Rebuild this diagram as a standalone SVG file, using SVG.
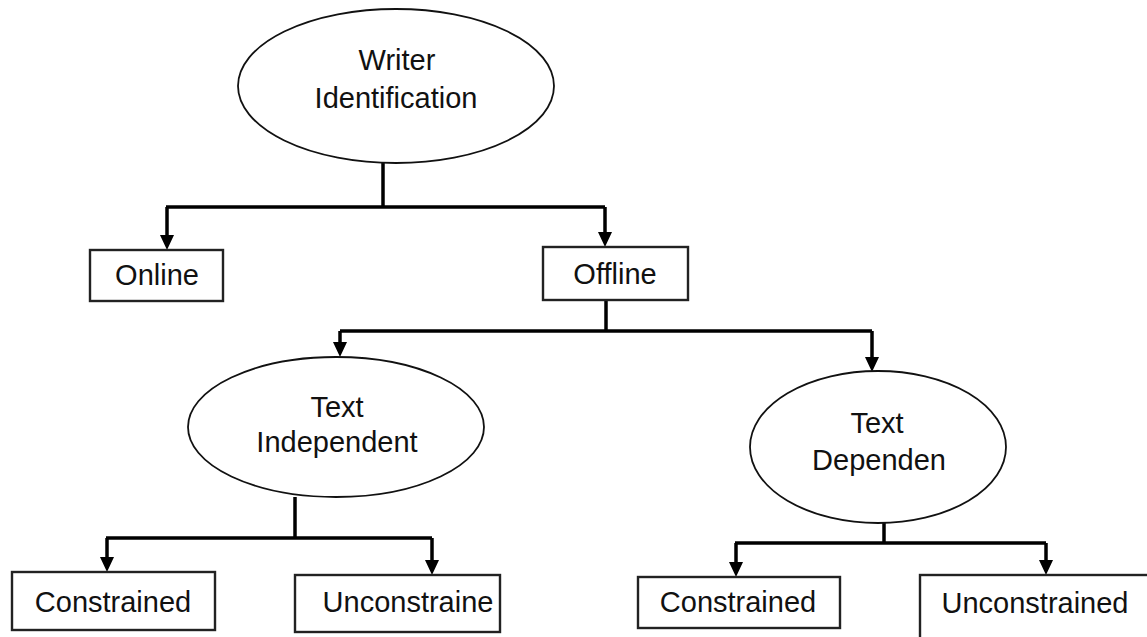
<svg xmlns="http://www.w3.org/2000/svg" width="1147" height="637" viewBox="0 0 1147 637">
<defs>
<style>
.ell{fill:#fff;stroke:#111;stroke-width:1.8}
.box{fill:#fff;stroke:#222;stroke-width:2.4}
.t{font-family:"Liberation Sans",Arial,sans-serif;font-size:29px;fill:#111;text-anchor:middle}
.c{fill:none;stroke:#000;stroke-width:3.5}
</style>
</defs>
<rect width="1147" height="637" fill="#fff"/>
<g id="connectors">
<path class="c" d="M383,163 V207"/>
<path class="c" d="M166,207 H605"/>
<path class="c" d="M167,207 V236"/>
<path class="c" d="M605,207 V233"/>
<path class="c" d="M606,300 V331"/>
<path class="c" d="M340,331 H872"/>
<path class="c" d="M340,331 V343"/>
<path class="c" d="M872,331 V358"/>
<path class="c" d="M295,497 V538"/>
<path class="c" d="M106,538 H432"/>
<path class="c" d="M107,538 V558"/>
<path class="c" d="M432,538 V561"/>
<path class="c" d="M884,523 V543"/>
<path class="c" d="M735,543 H1046"/>
<path class="c" d="M736,543 V563"/>
<path class="c" d="M1046,543 V561"/>
<path d="M160,235 L174,235 L167,250 Z"/>
<path d="M598,232 L612,232 L605,247 Z"/>
<path d="M333,342 L347,342 L340,357 Z"/>
<path d="M865,357 L879,357 L872,372 Z"/>
<path d="M100,557 L114,557 L107,572 Z"/>
<path d="M425,560 L439,560 L432,575 Z"/>
<path d="M729,562 L743,562 L736,577 Z"/>
<path d="M1039,560 L1053,560 L1046,575 Z"/>
</g>
<g id="writer-identification">
<ellipse class="ell" cx="396" cy="86" rx="158" ry="77"/>
<text class="t" x="397" y="70">Writer</text>
<text class="t" x="396" y="108">Identification</text>
</g>
<g id="online">
<rect class="box" x="90" y="250" width="133" height="51"/>
<text class="t" x="157" y="285">Online</text>
</g>
<g id="offline">
<rect class="box" x="543" y="247" width="145" height="53"/>
<text class="t" x="615" y="284">Offline</text>
</g>
<g id="text-independent">
<ellipse class="ell" cx="336" cy="427" rx="148" ry="70"/>
<text class="t" x="337" y="417">Text</text>
<text class="t" x="337" y="452">Independent</text>
</g>
<g id="text-dependen">
<ellipse class="ell" cx="878" cy="447" rx="128" ry="76"/>
<text class="t" x="877" y="433">Text</text>
<text class="t" x="879" y="470">Dependen</text>
</g>
<g id="constrained-1">
<rect class="box" x="12" y="572" width="203" height="58"/>
<text class="t" x="113" y="612">Constrained</text>
</g>
<g id="unconstraine">
<rect class="box" x="295" y="575" width="205" height="57"/>
<text class="t" x="408" y="612">Unconstraine</text>
</g>
<g id="constrained-2">
<rect class="box" x="638" y="577" width="202" height="51"/>
<text class="t" x="738" y="612">Constrained</text>
</g>
<g id="unconstrained">
<rect class="box" x="920" y="575" width="240" height="70"/>
<text class="t" x="1035" y="613">Unconstrained</text>
</g>
</svg>
